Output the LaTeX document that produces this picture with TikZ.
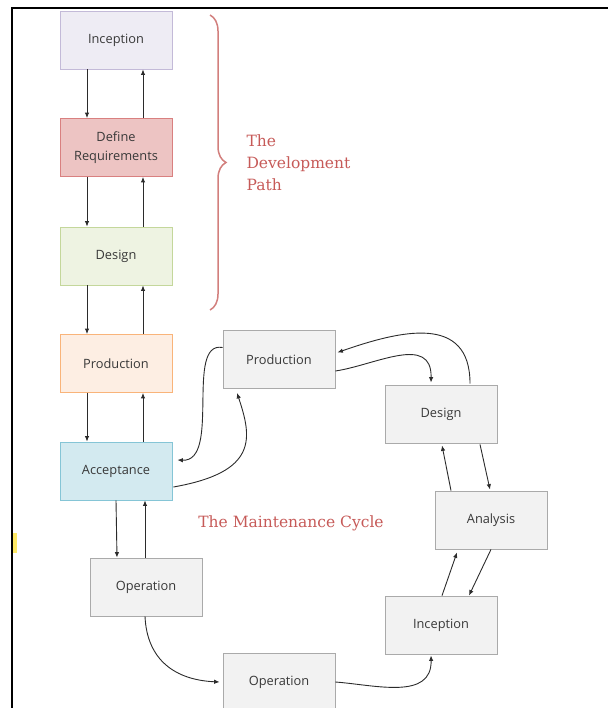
\documentclass[tikz,border=0pt]{standalone}
\usepackage{fontspec}
\setsansfont{Open Sans}
\newfontfamily\labelserif{DejaVu Serif}
\usetikzlibrary{arrows.meta,positioning,calc,decorations.pathreplacing}
\definecolor{incFill}{HTML}{EEECF4}
\definecolor{incLine}{HTML}{C3BAD8}
\definecolor{reqFill}{HTML}{EDC4C3}
\definecolor{reqLine}{HTML}{D98080}
\definecolor{desFill}{HTML}{EEF3E2}
\definecolor{desLine}{HTML}{C4D79B}
\definecolor{prodFill}{HTML}{FDEEE3}
\definecolor{prodLine}{HTML}{F9B47A}
\definecolor{accFill}{HTML}{D3EAF0}
\definecolor{accLine}{HTML}{85C5D6}
\definecolor{cycFill}{HTML}{F2F2F2}
\definecolor{cycLine}{HTML}{AAAAAA}
\definecolor{boxText}{HTML}{383838}
\definecolor{pathRed}{HTML}{C65A58}
\definecolor{braceRed}{HTML}{D27F7D}
\definecolor{lineDark}{HTML}{2B2B2B}

\begin{document}
\begin{tikzpicture}[x=1pt,y=-1pt,
    box/.style={draw,line width=0.8pt,minimum width=112pt,minimum height=58pt,inner sep=2pt,
      align=center,text=boxText,font=\sffamily\fontsize{12.8}{18.5}\selectfont},
    grey/.style={box,fill=cycFill,draw=cycLine},
    arr/.style={-{Latex[length=5.5pt,width=4.5pt]},line width=0.9pt,draw=lineDark},
    redtext/.style={text=pathRed,font=\labelserif\fontsize{15.5}{22}\selectfont}]
  \useasboundingbox (0,0) rectangle (608,708);
  % frame edges and marker
  \draw[line width=2pt] (12,708) -- (12,8) -- (608,8);
  \fill[yellow!80!orange!60] (13,533) rectangle (16.5,553);

  % development path
  \node[box,fill=incFill,draw=incLine] (dInc) at (116,40) {Inception};
  \node[box,fill=reqFill,draw=reqLine] (dReq) at (116,147.5) {Define\\Requirements};
  \node[box,fill=desFill,draw=desLine] (dDes) at (116,256) {Design};
  \node[box,fill=prodFill,draw=prodLine] (dProd) at (116,363.5) {Production};
  \node[box,fill=accFill,draw=accLine] (dAcc) at (116,471) {Acceptance};
  \foreach \a/\b in {dInc/dReq,dReq/dDes,dDes/dProd,dProd/dAcc} {
    \draw[arr] ($(\a.south)+(-29,0)$) -- ($(\b.north)+(-29,0)$);
    \draw[arr] ($(\b.north)+(27,0)$) -- ($(\a.south)+(27,0)$);
  }
  \draw[decorate,decoration={brace,amplitude=16pt},braceRed,line width=1.5pt]
    (210,15) -- (210,310);
  \node[redtext,anchor=west,align=left] (devLabel) at (243,163) {The\\Development\\Path};

  % maintenance cycle
  \node[grey] (op1) at (146,587) {Operation};
  \node[grey] (op2) at (279,682) {Operation};
  \node[grey] (mProd) at (279,359.5) {Production};
  \node[grey] (mDes) at (441,414) {Design};
  \node[grey] (mAna) at (491,520) {Analysis};
  \node[grey] (mInc) at (441,625) {Inception};
  \node[redtext] (cycLabel) at (291,523) {The Maintenance Cycle};

  \draw[arr] (dAcc.south) -- ($(op1.north)+(-29,0)$);
  \draw[arr] ($(op1.north)+(-1,0)$) -- ($(dAcc.south)+(29,0)$);
  \draw[arr] ($(mProd.west)+(0,-12)$) .. controls +(-38,-7) and +(44,2) .. ($(dAcc.east)+(5,-11)$);
  \draw[arr] ($(dAcc.east)+(1,16)$) .. controls +(85,-15) and +(15,45) .. ($(mProd.south)+(-42,4)$);
  \draw[arr] ($(mDes.north)+(29,-1)$) .. controls +(0,-70) and +(63,-22) .. ($(mProd.east)+(2,-7)$);
  \draw[arr] ($(mProd.east)+(0,11.5)$) .. controls +(40,-6) and +(1,-49) .. ($(mDes.north)+(-10,-2)$);
  \draw[arr] ($(mDes.south)+(39,1)$) -- ($(mAna.north)+(-1,-1)$);
  \draw[arr] ($(mAna.north)+(-40,0)$) -- ($(mDes.south)+(1,2)$);
  \draw[arr] (mAna.south) -- ($(mInc.north)+(28,0)$);
  \draw[arr] ($(mInc.north)+(1,0)$) -- ($(mAna.south)+(-34,3)$);
  \draw[arr] (op2.east) .. controls +(40,3) and +(1,45) .. ($(mInc.south)+(-10,1)$);
  \draw[arr] ($(op1.south)+(-1,0)$) .. controls +(2,44) and +(-44,-2) .. ($(op2.west)+(-3,0)$);
\end{tikzpicture}
\end{document}
